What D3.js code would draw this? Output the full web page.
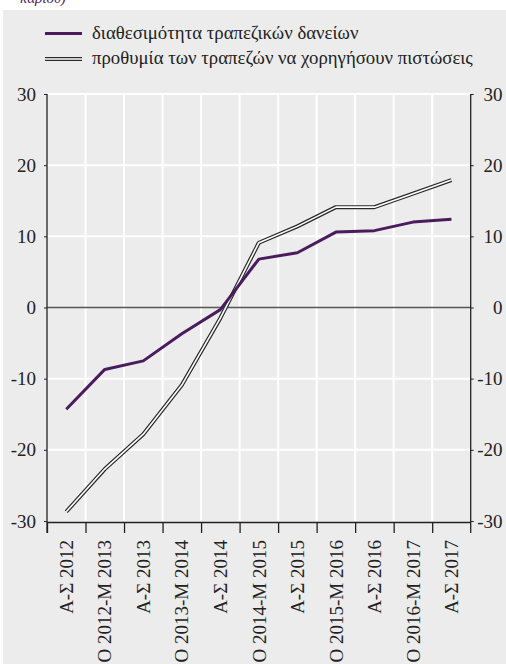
<!DOCTYPE html>
<html>
<head>
<meta charset="utf-8">
<script src="https://cdn.jsdelivr.net/npm/d3@7"></script>
<style>
  html, body { margin: 0; padding: 0; background: #fff; }
  svg { display: block; }
</style>
</head>
<body>
<svg id="chart" width="506" height="664"></svg>
<script>
// ---- data ----
const categories = ["Α-Σ 2012", "Ο 2012-Μ 2013", "Α-Σ 2013", "Ο 2013-Μ 2014", "Α-Σ 2014",
  "Ο 2014-Μ 2015", "Α-Σ 2015", "Ο 2015-Μ 2016", "Α-Σ 2016", "Ο 2016-Μ 2017", "Α-Σ 2017"];
const availability = [-14.3, -8.7, -7.5, -3.7, -0.3, 6.8, 7.7, 10.6, 10.8, 12.0, 12.4];
const willingness = [-28.7, -22.7, -17.8, -10.9, -1.5, 9.1, 11.4, 14.1, 14.1, 16.0, 17.9];
const seriesNames = ["διαθεσιμότητα τραπεζικών δανείων", "προθυμία των τραπεζών να χορηγήσουν πιστώσεις"];
const yTicks = [-30, -20, -10, 0, 10, 20, 30];
const titleTail = "καρίου)";

// ---- layout ----
const FONT = "'Liberation Serif'";
const svg = d3.select("#chart");
const W = 506, H = 664;
const pLeft = 47, pRight = 470.7, pTop = 94, pBottom = 521;
const purple = "#4a1c5e";
const ink = "#222";

svg.append("text").attr("x", 20).attr("y", 3).attr("fill", purple)
  .attr("font-size", 15).attr("font-style", "italic").text(titleTail);

svg.append("rect").attr("x", 3).attr("y", 10).attr("width", W - 3).attr("height", H - 10)
  .attr("fill", "#ececec");

const x = d3.scaleBand().domain(categories).range([pLeft, pRight]).padding(0);
const y = d3.scaleLinear().domain([-30, 30]).range([pBottom, pTop]);

// grid
const g = svg.append("g");
g.selectAll("line.hg").data(yTicks.filter(d => d !== 0 && d !== -30)).join("line")
  .attr("x1", pLeft).attr("x2", pRight).attr("y1", d => y(d)).attr("y2", d => y(d))
  .attr("stroke", "#fff").attr("stroke-width", 2);
g.selectAll("line.vg").data(categories.slice(1)).join("line")
  .attr("x1", d => x(d)).attr("x2", d => x(d)).attr("y1", pTop).attr("y2", pBottom)
  .attr("stroke", "#fff").attr("stroke-width", 2);

// zero line
g.append("line").attr("x1", pLeft).attr("x2", pRight).attr("y1", y(0)).attr("y2", y(0))
  .attr("stroke", "#555").attr("stroke-width", 1.3);

// y axes
const fmt = d => String(d);
const yl = svg.append("g").attr("transform", `translate(${pLeft},0)`)
  .call(d3.axisLeft(y).tickValues(yTicks).tickSize(3).tickPadding(8).tickFormat(fmt));
const yr = svg.append("g").attr("transform", `translate(${pRight},0)`)
  .call(d3.axisRight(y).tickValues(yTicks).tickSize(3).tickPadding(8).tickFormat(fmt));
[yl, yr].forEach(a => {
  a.select(".domain").remove();
  a.selectAll(".tick line").attr("stroke", ink);
  a.selectAll(".tick text").attr("font-size", 19).attr("fill", ink);
});
yr.selectAll(".tick text").attr("text-anchor", "end").attr("x", 502.5 - pRight);

svg.append("line").attr("x1", pLeft).attr("x2", pLeft).attr("y1", pTop).attr("y2", pBottom + 12)
  .attr("stroke", ink).attr("stroke-width", 1.3);
svg.append("line").attr("x1", pRight).attr("x2", pRight).attr("y1", pTop).attr("y2", pBottom + 12)
  .attr("stroke", ink).attr("stroke-width", 1.3);

// x axis
const xa = svg.append("g");
xa.append("line").attr("x1", pLeft).attr("x2", pRight).attr("y1", pBottom + 1.5).attr("y2", pBottom + 1.5)
  .attr("stroke", ink).attr("stroke-width", 1.3);
xa.selectAll("line.tk").data(categories).join("line")
  .attr("x1", d => x(d) + 0.5).attr("x2", d => x(d) + 0.5)
  .attr("y1", pBottom + 1).attr("y2", pBottom + 12)
  .attr("stroke", ink).attr("stroke-width", 1.3);
xa.selectAll("text").data(categories).join("text")
  .attr("transform", d => `translate(${x(d) + x.bandwidth() / 2},${pBottom + 19}) rotate(-90)`)
  .attr("text-anchor", "end").attr("dy", "0.35em")
  .attr("font-size", 19).attr("fill", ink).text(d => d);

// lines
const line = d3.line().x((d, i) => x(categories[i]) + x.bandwidth() / 2).y(d => y(d));
svg.append("path").datum(willingness).attr("d", line).attr("fill", "none")
  .attr("stroke", "#2a2a2a").attr("stroke-width", 4).attr("stroke-linejoin", "round");
svg.append("path").datum(willingness).attr("d", line).attr("fill", "none")
  .attr("stroke", "#fff").attr("stroke-width", 1.6).attr("stroke-linejoin", "round");
svg.append("path").datum(availability).attr("d", line).attr("fill", "none")
  .attr("stroke", purple).attr("stroke-width", 3).attr("stroke-linejoin", "round");

// legend
const lg = svg.append("g");
lg.append("line").attr("x1", 45).attr("x2", 82).attr("y1", 33.5).attr("y2", 33.5)
  .attr("stroke", purple).attr("stroke-width", 3);
lg.append("line").attr("x1", 45).attr("x2", 82).attr("y1", 59).attr("y2", 59)
  .attr("stroke", "#2a2a2a").attr("stroke-width", 4);
lg.append("line").attr("x1", 45).attr("x2", 82).attr("y1", 59).attr("y2", 59)
  .attr("stroke", "#fff").attr("stroke-width", 1.6);
lg.selectAll("text").data(seriesNames).join("text")
  .attr("x", 92).attr("y", (d, i) => 38.5 + i * 25.5)
  .attr("font-size", 18.8).attr("fill", ink).text(d => d);

// apply serif font inline to every text
svg.selectAll("text").style("font-family", FONT);
</script>
</body>
</html>
